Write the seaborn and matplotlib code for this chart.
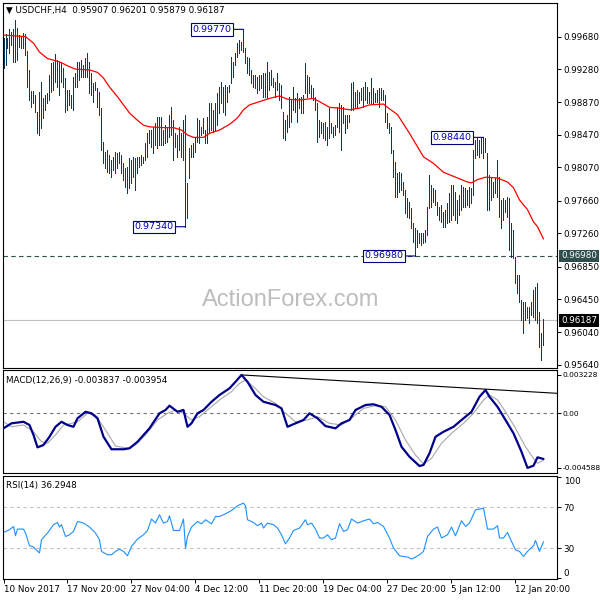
import numpy as np
import pandas as pd
import seaborn as sns
import matplotlib
matplotlib.use("Agg")
import matplotlib.pyplot as plt
import matplotlib.transforms as mtransforms

# USDCHF H4 bars, high / low (one value per bar)
highs = [
    0.9966, 0.9971, 0.9966, 0.9977, 0.9974, 0.9977, 0.9988, 0.9979, 0.9970, 0.9968,
    0.9972, 0.9971, 0.9950, 0.9927, 0.9901, 0.9901, 0.9896, 0.9875, 0.9900, 0.9912,
    0.9892, 0.9896, 0.9899, 0.9921, 0.9936, 0.9937, 0.9947, 0.9939, 0.9937, 0.9936,
    0.9929, 0.9917, 0.9902, 0.9902, 0.9896, 0.9918, 0.9923, 0.9937, 0.9937, 0.9939,
    0.9933, 0.9942, 0.9948, 0.9937, 0.9923, 0.9911, 0.9912, 0.9905, 0.9900, 0.9880,
    0.9838, 0.9826, 0.9828, 0.9822, 0.9816, 0.9820, 0.9826, 0.9825, 0.9826, 0.9822,
    0.9812, 0.9806, 0.9807, 0.9819, 0.9816, 0.9820, 0.9819, 0.9820, 0.9820, 0.9822,
    0.9820, 0.9837, 0.9849, 0.9853, 0.9853, 0.9857, 0.9862, 0.9869, 0.9869, 0.9869,
    0.9853, 0.9859, 0.9857, 0.9872, 0.9881, 0.9865, 0.9849, 0.9847, 0.9857, 0.9849,
    0.9865, 0.9872, 0.9788, 0.9831, 0.9835, 0.9837, 0.9844, 0.9868, 0.9865, 0.9857,
    0.9868, 0.9853, 0.9869, 0.9886, 0.9886, 0.9878, 0.9886, 0.9899, 0.9906, 0.9912,
    0.9906, 0.9908, 0.9906, 0.9908, 0.9943, 0.9937, 0.9948, 0.9960, 0.9964, 0.9961,
    0.9977, 0.9954, 0.9943, 0.9942, 0.9927, 0.9921, 0.9921, 0.9918, 0.9921, 0.9921,
    0.9923, 0.9923, 0.9937, 0.9924, 0.9927, 0.9917, 0.9912, 0.9923, 0.9911, 0.9908,
    0.9875, 0.9865, 0.9872, 0.9894, 0.9890, 0.9906, 0.9892, 0.9899, 0.9892, 0.9894,
    0.9896, 0.9936, 0.9921, 0.9918, 0.9908, 0.9905, 0.9894, 0.9886, 0.9865, 0.9863,
    0.9862, 0.9863, 0.9857, 0.9880, 0.9862, 0.9857, 0.9859, 0.9881, 0.9886, 0.9884,
    0.9881, 0.9872, 0.9872, 0.9872, 0.9911, 0.9912, 0.9900, 0.9902, 0.9900, 0.9905,
    0.9906, 0.9912, 0.9906, 0.9900, 0.9917, 0.9905, 0.9899, 0.9902, 0.9905, 0.9905,
    0.9902, 0.9896, 0.9874, 0.9862, 0.9857, 0.9828, 0.9814, 0.9800, 0.9801, 0.9800,
    0.9789, 0.9779, 0.9769, 0.9764, 0.9757, 0.9739, 0.9732, 0.9730, 0.9726, 0.9726,
    0.9726, 0.9730, 0.9758, 0.9798, 0.9785, 0.9782, 0.9779, 0.9764, 0.9758, 0.9761,
    0.9752, 0.9755, 0.9763, 0.9775, 0.9785, 0.9785, 0.9777, 0.9767, 0.9773, 0.9785,
    0.9783, 0.9782, 0.9779, 0.9783, 0.9782, 0.9828, 0.9841, 0.9843, 0.9841, 0.9843,
    0.9844, 0.9843, 0.9825, 0.9798, 0.9794, 0.9789, 0.9794, 0.9816, 0.9795, 0.9767,
    0.9769, 0.9767, 0.9771, 0.9769, 0.9739, 0.9730, 0.9697, 0.9675, 0.9675, 0.9644,
    0.9641, 0.9641, 0.9635, 0.9635, 0.9641, 0.9656, 0.9660, 0.9665, 0.9629, 0.9603,
    0.9620,
]
lows = [
    0.9929, 0.9933, 0.9954, 0.9948, 0.9958, 0.9937, 0.9937, 0.9939, 0.9955, 0.9954,
    0.9954, 0.9945, 0.9906, 0.9890, 0.9881, 0.9886, 0.9875, 0.9849, 0.9847, 0.9856,
    0.9868, 0.9878, 0.9886, 0.9890, 0.9900, 0.9902, 0.9912, 0.9906, 0.9896, 0.9912,
    0.9906, 0.9875, 0.9878, 0.9884, 0.9880, 0.9878, 0.9906, 0.9906, 0.9915, 0.9918,
    0.9918, 0.9918, 0.9918, 0.9899, 0.9896, 0.9888, 0.9902, 0.9881, 0.9872, 0.9828,
    0.9812, 0.9806, 0.9801, 0.9800, 0.9795, 0.9804, 0.9800, 0.9806, 0.9812, 0.9800,
    0.9791, 0.9783, 0.9775, 0.9782, 0.9788, 0.9795, 0.9779, 0.9800, 0.9807, 0.9810,
    0.9812, 0.9816, 0.9820, 0.9837, 0.9832, 0.9825, 0.9835, 0.9831, 0.9835, 0.9835,
    0.9835, 0.9837, 0.9838, 0.9844, 0.9847, 0.9816, 0.9832, 0.9820, 0.9828, 0.9820,
    0.9816, 0.9734, 0.9745, 0.9794, 0.9820, 0.9820, 0.9826, 0.9838, 0.9837, 0.9847,
    0.9849, 0.9837, 0.9837, 0.9849, 0.9853, 0.9851, 0.9853, 0.9859, 0.9874, 0.9886,
    0.9875, 0.9872, 0.9888, 0.9900, 0.9911, 0.9918, 0.9933, 0.9943, 0.9948, 0.9952,
    0.9949, 0.9936, 0.9923, 0.9921, 0.9911, 0.9906, 0.9905, 0.9899, 0.9902, 0.9905,
    0.9894, 0.9894, 0.9893, 0.9902, 0.9908, 0.9906, 0.9894, 0.9902, 0.9890, 0.9880,
    0.9843, 0.9841, 0.9851, 0.9857, 0.9863, 0.9878, 0.9875, 0.9863, 0.9880, 0.9874,
    0.9874, 0.9899, 0.9894, 0.9899, 0.9894, 0.9890, 0.9878, 0.9838, 0.9844, 0.9849,
    0.9843, 0.9841, 0.9835, 0.9843, 0.9849, 0.9844, 0.9847, 0.9857, 0.9851, 0.9828,
    0.9862, 0.9849, 0.9856, 0.9863, 0.9878, 0.9878, 0.9880, 0.9881, 0.9886, 0.9890,
    0.9881, 0.9890, 0.9886, 0.9886, 0.9886, 0.9886, 0.9888, 0.9888, 0.9881, 0.9890,
    0.9890, 0.9863, 0.9856, 0.9849, 0.9825, 0.9795, 0.9771, 0.9771, 0.9777, 0.9779,
    0.9773, 0.9751, 0.9746, 0.9745, 0.9732, 0.9715, 0.9698, 0.9709, 0.9714, 0.9712,
    0.9714, 0.9715, 0.9724, 0.9757, 0.9758, 0.9764, 0.9761, 0.9748, 0.9742, 0.9740,
    0.9734, 0.9734, 0.9739, 0.9740, 0.9742, 0.9748, 0.9742, 0.9739, 0.9748, 0.9755,
    0.9758, 0.9758, 0.9761, 0.9758, 0.9763, 0.9773, 0.9819, 0.9822, 0.9820, 0.9825,
    0.9819, 0.9826, 0.9755, 0.9755, 0.9767, 0.9771, 0.9775, 0.9771, 0.9746, 0.9732,
    0.9742, 0.9752, 0.9746, 0.9705, 0.9697, 0.9696, 0.9665, 0.9652, 0.9641, 0.9619,
    0.9603, 0.9619, 0.9622, 0.9615, 0.9625, 0.9623, 0.9619, 0.9615, 0.9586, 0.9570,
    0.9588,
]

# red moving average (bar index, value)
ma_idx = [0, 11, 15, 18, 22, 28, 33, 36, 43, 47, 50, 53, 57, 60, 63, 67, 70, 73, 80, 85,
          89, 92, 95, 100, 103, 108, 113, 117, 120, 123, 128, 133, 138, 142, 148, 155, 158, 163, 168, 173,
          178, 183, 190, 192, 197, 203, 210, 215, 220, 227, 232, 234, 237, 241, 247, 252, 255, 258, 262, 265,
          267, 270]
ma_val = [0.9970, 0.9968, 0.9960, 0.9949, 0.9941, 0.9937, 0.9931, 0.9928, 0.9927, 0.9924,
          0.9917, 0.9906, 0.9894, 0.9884, 0.9874, 0.9865, 0.9859, 0.9857, 0.9856, 0.9856,
          0.9853, 0.9847, 0.9844, 0.9844, 0.9849, 0.9853, 0.9860, 0.9868, 0.9878, 0.9884,
          0.9888, 0.9892, 0.9895, 0.9891, 0.9890, 0.9892, 0.9888, 0.9881, 0.9880, 0.9878,
          0.9880, 0.9884, 0.9885, 0.9881, 0.9872, 0.9849, 0.9820, 0.9812, 0.9801, 0.9794,
          0.9789, 0.9788, 0.9792, 0.9795, 0.9794, 0.9789, 0.9782, 0.9767, 0.9755, 0.9740,
          0.9734, 0.9719]

# MACD(12,26,9) main and signal
macd_idx = [0, 4, 10, 13, 15, 17, 20, 23, 26, 29, 32, 35, 37, 41, 44, 47, 50, 54, 60, 63,
            67, 73, 78, 81, 83, 87, 90, 92, 94, 97, 100, 104, 108, 113, 116, 119, 122, 126, 130, 136,
            139, 142, 146, 150, 153, 157, 161, 166, 169, 173, 176, 181, 185, 189, 193, 196, 199, 203, 208, 210,
            213, 216, 220, 225, 230, 234, 238, 241, 243, 247, 251, 255, 259, 262, 265, 267, 270]
macd_val = [-0.00126, -0.00084, -0.00071, -0.00098, -0.00182, -0.00286, -0.00266, -0.00197, -0.00113, -0.00071,
            -0.00098, -0.00113, -0.00042, 0.00013, 0.0, -0.00042, -0.00197, -0.00302, -0.00302, -0.00294,
            -0.00239, -0.00126, 0.0, 0.00028, 0.00064, 0.00013, 0.00028, -0.00113, -0.00084, 0.0,
            0.00028, 0.00097, 0.00154, 0.00210, 0.00265, 0.003228, 0.00265, 0.00154, 0.00097, 0.00070,
            0.00042, -0.00113, -0.00084, -0.00056, 0.0, -0.00042, -0.00107, -0.00126, -0.00084, -0.00056,
            0.00028, 0.00070, 0.00076, 0.00055, -0.00014, -0.00140, -0.00281, -0.00365, -0.00443, -0.00434,
            -0.00336, -0.00197, -0.00155, -0.00113, -0.00042, 0.00013, 0.00139, 0.00196, 0.00139, 0.00055,
            -0.00056, -0.00168, -0.00323, -0.004588, -0.00440, -0.00370, -0.003837]
sig_idx = [0, 4, 10, 15, 19, 22, 26, 30, 34, 37, 42, 46, 51, 56, 62, 66, 71, 77, 82, 86,
           90, 94, 98, 103, 108, 114, 118, 121, 125, 130, 136, 141, 146, 152, 157, 163, 169, 174, 180, 186,
           191, 196, 201, 206, 210, 214, 219, 224, 230, 235, 240, 243, 247, 251, 256, 261, 265, 267, 270]
sig_val = [-0.00071, -0.00113, -0.00098, -0.00155, -0.00239, -0.00252, -0.00182, -0.00098, -0.00084, -0.00071,
           0.0, -0.00014, -0.00140, -0.00275, -0.00294, -0.00266, -0.00182, -0.00056, 0.0, 0.00028,
           0.0, -0.00056, -0.00028, 0.00042, 0.00112, 0.00182, 0.00252, 0.00280, 0.00224, 0.00139,
           0.00084, 0.0, -0.00071, -0.00056, -0.00028, -0.00084, -0.00098, -0.00042, 0.00042, 0.00064,
           0.00055, -0.00056, -0.00224, -0.00350, -0.00426, -0.00378, -0.00252, -0.00168, -0.00084, 0.0,
           0.00112, 0.00154, 0.00112, 0.00013, -0.00126, -0.00281, -0.00378, -0.00420, -0.003954]
trend_idx = [119, 277]
trend_val = [0.003228, 0.00168]

# RSI(14)
rsi_idx = [0, 3, 5, 6, 7, 10, 11, 13, 15, 18, 19, 22, 25, 27, 28, 29, 31, 33, 35, 37,
           40, 43, 46, 48, 49, 52, 54, 56, 58, 60, 62, 64, 67, 70, 72, 74, 76, 78, 80, 82,
           83, 85, 88, 90, 91, 92, 94, 97, 99, 101, 104, 106, 108, 111, 114, 117, 120, 121, 122, 125,
           127, 129, 130, 132, 135, 137, 139, 141, 143, 145, 148, 151, 152, 154, 156, 158, 160, 162, 164, 166,
           168, 170, 172, 174, 177, 180, 183, 185, 187, 190, 193, 195, 198, 200, 202, 204, 206, 208, 210, 212,
           215, 217, 219, 222, 224, 226, 229, 231, 233, 236, 238, 240, 242, 245, 247, 248, 250, 252, 254, 256,
           258, 260, 262, 265, 266, 268, 270]
rsi_val = [45.4, 48.0, 51.3, 42.1, 48.7, 48.7, 44.8, 32.3, 31.0, 25.1,
           38.2, 44.8, 53.0, 55.2, 50.7, 53.0, 41.4, 43.1, 46.4, 56.2,
           54.6, 50.7, 44.8, 38.2, 26.7, 23.4, 23.4, 26.7, 29.0, 26.7,
           22.4, 31.6, 38.9, 43.1, 47.3, 58.6, 54.6, 62.8, 54.6, 56.2,
           61.8, 47.3, 47.3, 58.6, 30.0, 41.4, 50.7, 56.2, 53.9, 57.9,
           53.9, 61.1, 61.1, 63.8, 67.0, 71.7, 74.3, 71.7, 57.9, 55.2,
           52.0, 54.6, 49.7, 54.6, 53.0, 49.7, 43.1, 34.2, 39.9, 47.3,
           49.7, 57.9, 53.0, 54.6, 48.7, 39.9, 39.9, 43.1, 38.2, 39.9,
           53.9, 46.4, 48.0, 58.6, 54.6, 56.9, 58.6, 53.9, 55.2, 51.3,
           39.9, 30.0, 22.4, 21.7, 21.1, 19.2, 21.1, 23.4, 26.7, 41.4,
           48.7, 50.7, 39.9, 43.1, 50.7, 42.1, 56.9, 51.3, 54.6, 67.7,
           68.4, 69.4, 48.7, 48.7, 52.0, 39.9, 39.9, 45.4, 36.5, 28.3,
           26.7, 21.7, 26.7, 32.3, 37.5, 26.7, 36.3]

swing_idx = [120, 91, 206, 240]
swing_val = [0.99770, 0.97340, 0.96980, 0.98440]
support_level = 0.96980
last_price = 0.96187

price_ticks = [0.99680, 0.99280, 0.98870, 0.98470, 0.98070, 0.97660,
               0.97260, 0.96850, 0.96450, 0.96040, 0.95640]
date_idx = [0, 32, 64, 96, 128, 160, 192, 224, 256]
date_labels = ["10 Nov 2017", "17 Nov 20:00", "27 Nov 04:00", "4 Dec 12:00",
               "11 Dec 20:00", "19 Dec 04:00", "27 Dec 20:00", "5 Jan 12:00", "12 Jan 20:00"]

sns.set_style("white")
plt.rcParams["font.family"] = ["DejaVu Sans"]
FS = 6.3

n = min(len(highs), len(lows))
bars = pd.DataFrame({"idx": np.arange(n), "high": highs[:n], "low": lows[:n]})

fig = plt.figure(figsize=(6, 6), dpi=100)
W = 554 / 600
ax = fig.add_axes([2.7 / 600, 1 - 368.3 / 600, W, 365.6 / 600])
axm = fig.add_axes([2.7 / 600, 1 - 472.7 / 600, W, 102.2 / 600])
axr = fig.add_axes([2.7 / 600, 1 - 579.0 / 600, W, 103.5 / 600])

for a in (ax, axm, axr):
    a.set_xlim(-0.4, 276.6)
    for s in a.spines.values():
        s.set_color("black")
        s.set_linewidth(0.8)
    a.yaxis.tick_right()
    a.tick_params(axis="y", direction="out", length=3, width=0.7, pad=2,
                  labelsize=FS, colors="black")

# ---- main price panel ----
ax.text(0.52, 0.187, "ActionForex.com", transform=ax.transAxes, ha="center", va="center",
        fontsize=17, color="#BDBDBD", family="Liberation Sans", zorder=0)
ax.axhline(support_level, color="#2F4F4F", lw=0.8, ls=(0, (4, 3)), zorder=1)
ax.axhline(last_price, color="#C0C0C0", lw=0.8, zorder=1)
ax.vlines(bars["idx"], bars["low"], bars["high"], colors="#0F3A57", lw=0.5,
          antialiased=False, zorder=2)
sns.lineplot(x=ma_idx, y=ma_val, ax=ax, color="red", lw=0.9, zorder=3)
ax.set_ylim(0.95597, 1.00098)
ax.set_yticks(price_ticks)
ax.set_yticklabels([f"{t:.5f}" for t in price_ticks])
ax.set_xticks([])
ax.set_xlabel("")
ax.set_ylabel("")

for i, v in zip(swing_idx, swing_val):
    ax.annotate(f"{v:.5f}", xy=(i, v), xytext=(i - 6, v), textcoords="data",
                ha="right", va="center", fontsize=6.8, color="#0000B0",
                bbox=dict(boxstyle="square,pad=0.18", fc="white", ec="#000080", lw=0.8),
                arrowprops=dict(arrowstyle="-", color="#000080", lw=0.8, shrinkA=0, shrinkB=0),
                zorder=5)

tr = mtransforms.blended_transform_factory(ax.transAxes, ax.transData)
ax.text(1.008, support_level, f"{support_level:.5f}", transform=tr, ha="left", va="center",
        fontsize=FS, color="white", zorder=6, clip_on=False,
        bbox=dict(boxstyle="square,pad=0.2", fc="#2F4F4F", ec="none"))
ax.text(1.008, last_price, f"{last_price:.5f}", transform=tr, ha="left", va="center",
        fontsize=FS, color="white", zorder=6, clip_on=False,
        bbox=dict(boxstyle="square,pad=0.2", fc="black", ec="none"))
ax.text(0.006, 0.979, "\u25bc USDCHF,H4  0.95907 0.96201 0.95879 0.96187",
        transform=ax.transAxes, ha="left", va="center", fontsize=FS, color="black")

# ---- MACD panel ----
axm.axhline(0, color="#707070", lw=0.8, ls=(0, (3, 3)), zorder=1)
sns.lineplot(x=sig_idx, y=sig_val, ax=axm, color="#A8A8A8", lw=0.8, zorder=2)
sns.lineplot(x=macd_idx, y=macd_val, ax=axm, color="#00008B", lw=1.6, zorder=3)
sns.lineplot(x=trend_idx, y=trend_val, ax=axm, color="black", lw=0.8, zorder=4)
axm.set_ylim(-0.00499, 0.00360)
axm.set_yticks([0.003228, 0.0, -0.004588])
axm.set_yticklabels(["0.003228", "0.00", "-0.004588"])
axm.tick_params(axis="y", labelsize=5.4, pad=1.5)
axm.set_xticks([])
axm.set_xlabel("")
axm.set_ylabel("")
axm.text(0.006, 0.905, "MACD(12,26,9) -0.003837 -0.003954", transform=axm.transAxes,
         ha="left", va="center", fontsize=FS, color="black")

# ---- RSI panel ----
for lvl in (70, 30):
    axr.axhline(lvl, color="#C0C0C0", lw=0.8, ls=(0, (3, 3)), zorder=1)
sns.lineplot(x=rsi_idx, y=rsi_val, ax=axr, color="#1E90FF", lw=0.8, zorder=2)
axr.set_ylim(-0.5, 101.5)
axr.set_yticks([100, 70, 30, 0])
axr.set_yticklabels(["100", "70", "30", "0"])
ylabs = axr.get_yticklabels()
ylabs[0].set_va("top")
ylabs[3].set_va("bottom")
axr.text(0.006, 0.905, "RSI(14) 36.2948", transform=axr.transAxes,
         ha="left", va="center", fontsize=FS, color="black")
axr.set_xticks(date_idx)
axr.set_xticklabels(date_labels)
axr.tick_params(axis="x", direction="out", length=3, width=0.7, pad=1,
                labelsize=FS, colors="black", bottom=True)
for lb in axr.get_xticklabels():
    lb.set_ha("left")
axr.set_xlabel("")
axr.set_ylabel("")

fig.savefig("out.png", dpi=100)
